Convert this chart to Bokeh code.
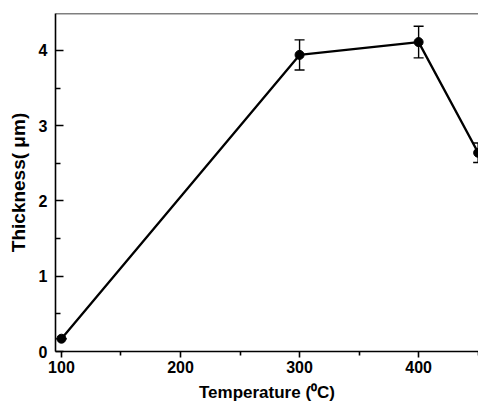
from bokeh.plotting import figure
from bokeh.models import ColumnDataSource, Whisker, TeeHead, Span, FixedTicker, Range1d
from bokeh.embed import file_html
from bokeh.resources import INLINE

# data
temperature = [100, 300, 400, 450]
thickness = [0.17, 3.94, 4.11, 2.64]
thickness_err = [0.0, 0.20, 0.21, 0.13]
x_ticks = [100, 200, 300, 400]
y_ticks = [0, 1, 2, 3, 4]

X_START, X_END = 95, 450.3
Y_START, Y_END = 0, 4.49

src = ColumnDataSource(dict(
    x=temperature,
    y=thickness,
    lo=[v - e for v, e in zip(thickness, thickness_err)],
    hi=[v + e for v, e in zip(thickness, thickness_err)],
))

p = figure(width=478, height=404, output_backend="svg", toolbar_location=None,
           x_range=Range1d(X_START, X_END), y_range=Range1d(Y_START, Y_END),
           min_border_left=55, min_border_right=0, min_border_top=13, min_border_bottom=53)
p.outline_line_color = None
p.xgrid.grid_line_color = None
p.ygrid.grid_line_color = None
p.background_fill_color = "white"
p.border_fill_color = "white"

FONT = "Liberation Sans"

# x axis
xa = p.xaxis[0]
xa.ticker = FixedTicker(ticks=x_ticks, minor_ticks=[150, 250, 350, 450])
xa.axis_label = "Temperature (\u2070C)"
xa.axis_label_text_font = FONT
xa.axis_label_text_font_style = "bold"
xa.axis_label_text_font_size = "17px"
xa.axis_label_text_color = "black"
xa.axis_label_standoff = 7
xa.major_label_text_font = FONT
xa.major_label_text_font_style = "bold"
xa.major_label_text_font_size = "16px"
xa.major_label_text_color = "black"
xa.major_label_standoff = 3
xa.axis_line_width = 1.6
xa.major_tick_line_width = 1.6
xa.minor_tick_line_width = 1.6
xa.major_tick_in = 0
xa.major_tick_out = 6
xa.minor_tick_in = 0
xa.minor_tick_out = 4

# y axis
ya = p.yaxis[0]
ya.ticker = FixedTicker(ticks=y_ticks, minor_ticks=[0.5, 1.5, 2.5, 3.5])
ya.axis_label = "Thickness( \u03bcm)"
ya.axis_label_text_font = FONT
ya.axis_label_text_font_style = "bold"
ya.axis_label_text_font_size = "19px"
ya.axis_label_text_color = "black"
ya.axis_label_standoff = 7
ya.major_label_text_font = FONT
ya.major_label_text_font_style = "bold"
ya.major_label_text_font_size = "16px"
ya.major_label_text_color = "black"
ya.major_label_standoff = 8
ya.axis_line_width = 1.6
ya.major_tick_line_width = 1.6
ya.minor_tick_line_width = 1.6
ya.major_tick_in = 8
ya.major_tick_out = 0
ya.minor_tick_in = 5
ya.minor_tick_out = 0

# top border line
p.add_layout(Span(location=Y_END, dimension="width", line_color="black", line_width=1.6))

p.line("x", "y", source=src, line_color="black", line_width=2.3)
p.scatter("x", "y", source=src, size=9, fill_color="black", line_color="black")
p.add_layout(Whisker(source=src, base="x", lower="lo", upper="hi",
                     line_color="black", line_width=1.4,
                     upper_head=TeeHead(size=10, line_color="black", line_width=1.4),
                     lower_head=TeeHead(size=10, line_color="black", line_width=1.4)))

open("out.html", "w").write(file_html(p, INLINE))
